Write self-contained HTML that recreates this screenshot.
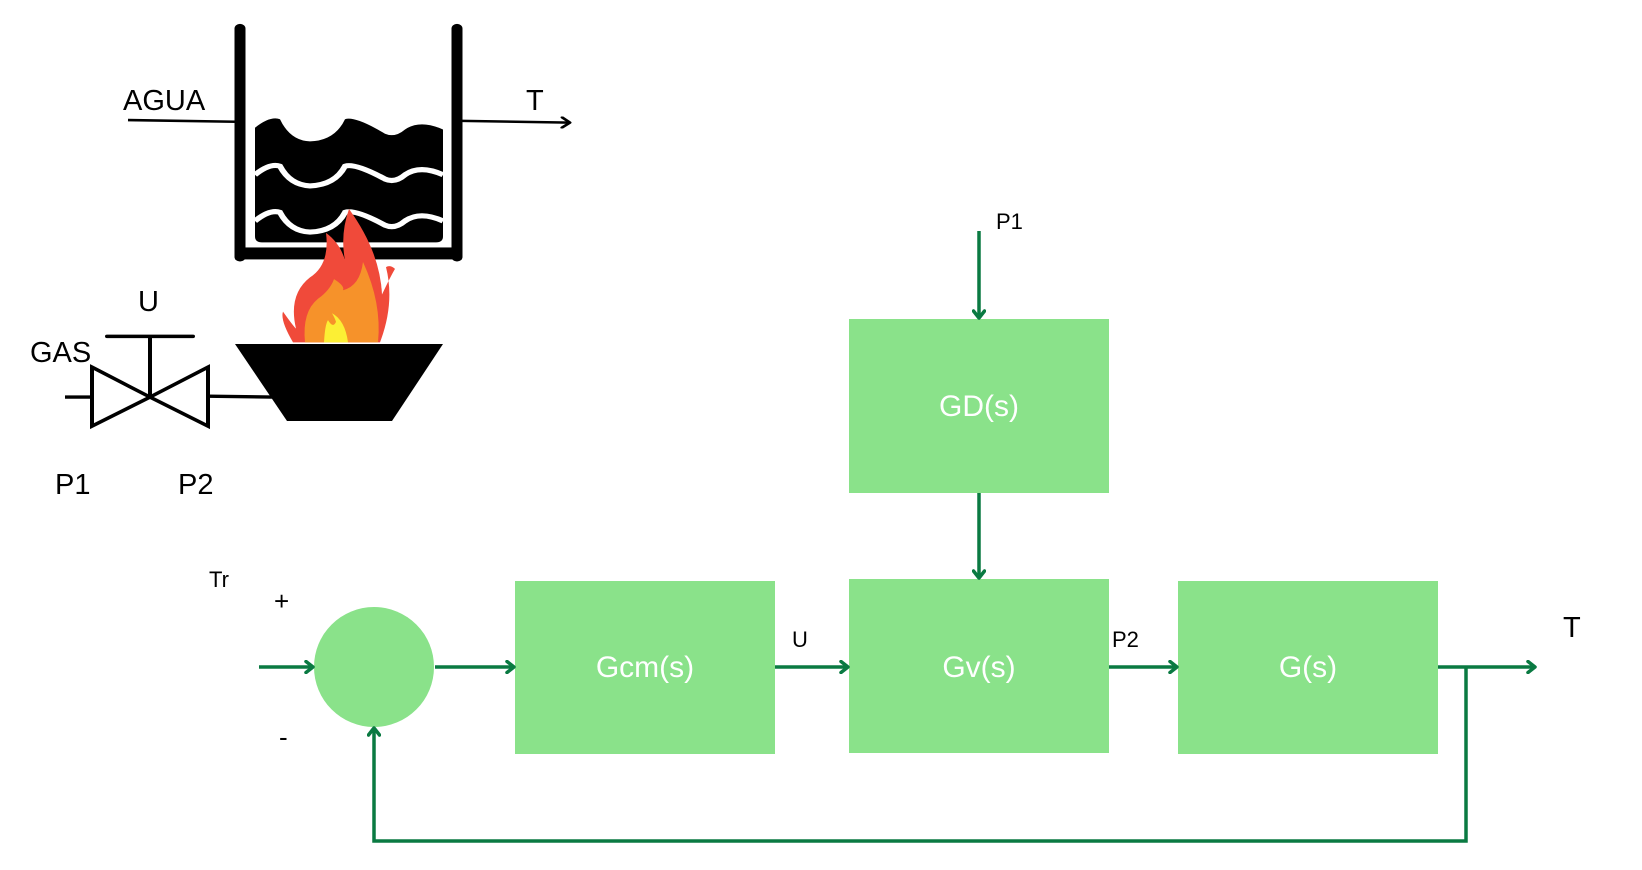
<!DOCTYPE html>
<html><head><meta charset="utf-8"><style>
html,body{margin:0;padding:0;background:#fff;}
svg{display:block;font-family:"Liberation Sans",Arial,sans-serif;}
</style></head><body>
<svg width="1642" height="870" viewBox="0 0 1642 870" xmlns="http://www.w3.org/2000/svg">
<defs>
<marker id="ga" markerWidth="14" markerHeight="14" refX="10" refY="7" orient="auto" markerUnits="userSpaceOnUse">
<path d="M3,1.5 L10,7 L3,12.5" fill="none" stroke="#0a7a42" stroke-width="3.5" stroke-linecap="round" stroke-linejoin="round"/>
</marker>
<marker id="ka" markerWidth="14" markerHeight="14" refX="11" refY="7" orient="auto" markerUnits="userSpaceOnUse">
<path d="M3,1 L11,7 L3,13" fill="none" stroke="#000" stroke-width="3" stroke-linecap="round" stroke-linejoin="round"/>
</marker>
</defs>

<g transform="translate(0,26) scale(1,0.855) translate(0,-26)">
<line x1="240" y1="29" x2="240" y2="296" stroke="#000" stroke-width="11" stroke-linecap="round"/>
<line x1="457" y1="29" x2="457" y2="296" stroke="#000" stroke-width="11" stroke-linecap="round"/>
<rect x="235" y="285" width="227" height="14" fill="#000"/>
<path d="M255,145 Q270,131 280,135 Q290,160 310,161 Q335,160 345,135 Q355,131 385,152 Q395,157 405,147 Q420,135 443,147 L443,272 Q443,279 436,279 L262,279 Q255,279 255,272 Z" fill="#000"/>
<path d="M255,200 Q270,186 280,190 Q290,212 310,213 Q335,212 345,190 Q355,186 385,205 Q395,210 405,200 Q420,188 443,200" fill="none" stroke="#fff" stroke-width="6"/>
<path d="M255,254 Q270,240 280,244 Q290,266 310,267 Q335,266 345,244 Q355,240 385,259 Q395,264 405,254 Q420,242 443,254" fill="none" stroke="#fff" stroke-width="6"/>
<line x1="128" y1="136" x2="236" y2="138" stroke="#000" stroke-width="3"/>
<line x1="462" y1="137" x2="570" y2="139" stroke="#000" stroke-width="3" marker-end="url(#ka)"/>

<path d="M349,240 Q380,290 382,340 Q390,320 395,310 Q390,305 386,308 Q395,350 380,396 L293,396 Q280,370 283,360 Q292,375 296,380 Q288,340 310,320 Q330,305 326,268 Q340,280 345,300 Q340,270 349,240 Z" fill="#f04a3a"/>
<path d="M363,302 Q382,350 378,396 L305,396 Q302,360 318,345 Q330,335 334,322 Q345,330 343,335 Q360,330 363,302 Z" fill="#f6922a"/>
<path d="M332,362 Q345,370 348,396 L324,396 Q325,375 328,370 Q333,380 336,372 Q335,368 332,362 Z" fill="#fcef34"/>
<polygon points="235,398 443,398 392,488 287,488" fill="#000"/>

<line x1="65" y1="460" x2="92" y2="460" stroke="#000" stroke-width="4"/>
<polygon points="92,425 150,460 92,494" fill="none" stroke="#000" stroke-width="4"/>
<polygon points="208,425 150,460 208,494" fill="none" stroke="#000" stroke-width="4"/>
<line x1="150" y1="460" x2="150" y2="389" stroke="#000" stroke-width="4"/>
<line x1="107" y1="389" x2="193" y2="389" stroke="#000" stroke-width="4" stroke-linecap="round"/>
<line x1="208" y1="459" x2="272" y2="460" stroke="#000" stroke-width="4"/>
</g>
<g fill="#000" font-size="29">
<text x="123" y="110">AGUA</text>
<text x="526" y="110">T</text>
<text x="138" y="311">U</text>
<text x="30" y="362">GAS</text>
<text x="55" y="494">P1</text>
<text x="178" y="494">P2</text>
</g>

<g fill="#8ae28a">
<rect x="849" y="319" width="260" height="174"/>
<rect x="515" y="581" width="260" height="173"/>
<rect x="849" y="579" width="260" height="174"/>
<rect x="1178" y="581" width="260" height="173"/>
<circle cx="374" cy="667" r="60"/>
</g>
<g fill="#fff" font-size="30" text-anchor="middle">
<text x="979" y="416">GD(s)</text>
<text x="645" y="677">Gcm(s)</text>
<text x="979" y="677">Gv(s)</text>
<text x="1308" y="677">G(s)</text>
</g>
<g stroke="#0a7a42" stroke-width="3.5" fill="none">
<line x1="259" y1="667" x2="313" y2="667" marker-end="url(#ga)"/>
<line x1="435" y1="667" x2="514" y2="667" marker-end="url(#ga)"/>
<line x1="775" y1="667" x2="848" y2="667" marker-end="url(#ga)"/>
<line x1="1109" y1="667" x2="1177" y2="667" marker-end="url(#ga)"/>
<line x1="1438" y1="667" x2="1535" y2="667" marker-end="url(#ga)"/>
<line x1="979" y1="231" x2="979" y2="318" marker-end="url(#ga)"/>
<line x1="979" y1="493" x2="979" y2="578" marker-end="url(#ga)"/>
<polyline points="1466,667 1466,841 374,841 374,728" marker-end="url(#ga)"/>
</g>
<g fill="#000">
<text x="996" y="229" font-size="22">P1</text>
<text x="209" y="587" font-size="22">Tr</text>
<text x="274" y="610" font-size="26">+</text>
<text x="279" y="746" font-size="26">-</text>
<text x="792" y="647" font-size="22">U</text>
<text x="1112" y="647" font-size="22">P2</text>
<text x="1563" y="637" font-size="29">T</text>
</g>
</svg>
</body></html>
